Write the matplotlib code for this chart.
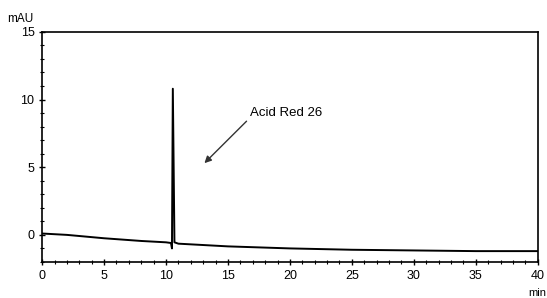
import matplotlib
matplotlib.use('Agg')
import matplotlib.pyplot as plt
from matplotlib.ticker import MultipleLocator

plt.rcParams['font.family'] = ['Liberation Sans', 'DejaVu Sans']

# Chromatogram trace (time in min, signal in mAU)
time_min = [0, 2, 5, 8, 10.0, 10.4, 10.48, 10.55, 10.68, 11, 13, 15, 20, 25, 30, 35, 40]
signal_mau = [0.1, 0.0, -0.25, -0.45, -0.55, -0.6, -1.0, 10.8, -0.55, -0.65, -0.75, -0.85, -1.0, -1.1, -1.15, -1.2, -1.2]

peak_label = 'Acid Red 26'

fig = plt.figure(figsize=(5.47, 2.98), dpi=100)
ax = fig.add_axes([0.077, 0.121, 0.906, 0.772])

ax.plot(time_min, signal_mau, color='black', linewidth=1.4)

ax.set_xlim(0, 40)
ax.set_ylim(-2, 15)
ax.xaxis.set_major_locator(MultipleLocator(5))
ax.xaxis.set_minor_locator(MultipleLocator(1))
ax.yaxis.set_major_locator(MultipleLocator(5))
ax.yaxis.set_minor_locator(MultipleLocator(1))
ax.tick_params(axis='both', which='major', labelsize=9, length=4, width=1, direction='inout')
ax.tick_params(axis='both', which='minor', length=3, width=0.8, direction='inout')
for s in ax.spines.values():
    s.set_linewidth(1.2)

ax.text(-0.07, 1.03, 'mAU', transform=ax.transAxes, fontsize=8.5, ha='left', va='bottom')
ax.text(0.982, -0.115, 'min', transform=ax.transAxes, fontsize=8, ha='left', va='top')

# label and arrow pointing toward the peak
ax.text(16.8, 9.0, peak_label, fontsize=9.5, ha='left', va='center')
ax.annotate('', xy=(13.1, 5.3), xytext=(16.5, 8.4),
            arrowprops=dict(arrowstyle='-|>', color='#333333', lw=1.0,
                            shrinkA=0, shrinkB=0, mutation_scale=10))

fig.savefig('out.png', dpi=100)
